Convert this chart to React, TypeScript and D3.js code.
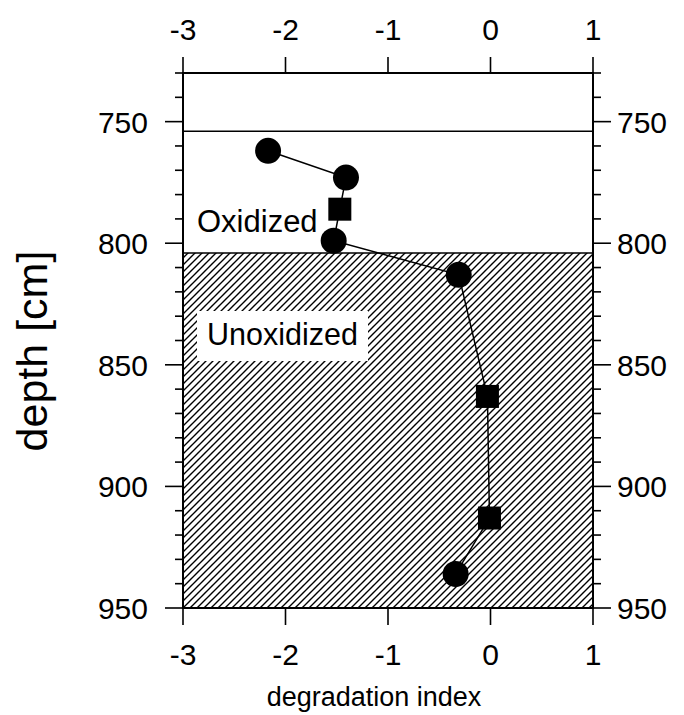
import * as d3 from "d3"
import React from "react"

// degradation index vs depth
const circleX = [-2.17, -1.41, -1.53, -0.31, -0.34]
const circleDepth = [762, 773, 799, 813, 936]
const squareX = [-1.47, -0.03, -0.01]
const squareDepth = [786, 863, 913]

const xTicks = [-3, -2, -1, 0, 1]
const depthMajor = [750, 800, 850, 900, 950]
const depthMinor = d3.range(730, 951, 10)

const oxidizedTop = 754
const unoxidizedTop = 804

const W = 684
const H = 715
const font = "'Liberation Sans', Arial, Helvetica, sans-serif"

const App = () => {
  const x = d3.scaleLinear().domain([-3, 1]).range([183, 593])
  const y = d3.scaleLinear().domain([730, 950]).range([73, 608])

  const circles = circleX.map((v, i) => ({ x: v, d: circleDepth[i] }))
  const squares = squareX.map((v, i) => ({ x: v, d: squareDepth[i] }))
  const all = [...circles, ...squares].sort((a, b) => a.d - b.d)

  const line = d3
    .line<{ x: number; d: number }>()
    .x((p) => x(p.x))
    .y((p) => y(p.d))

  const [x0, x1] = x.range()
  const [y0, y1] = y.range()

  return (
    <svg
      width={W}
      height={H}
      viewBox={`0 0 ${W} ${H}`}
      style={{ position: "absolute", left: 0, top: 0, display: "block", background: "#fff" }}
      fontFamily={font}
    >
      <defs>
        <pattern id="hatch" patternUnits="userSpaceOnUse" width={7} height={7}>
          <path d="M-1,1 l2,-2 M0,7 l7,-7 M6,8 l2,-2" stroke="#000" strokeWidth={1.4} />
        </pattern>
      </defs>

      {/* unoxidized zone */}
      <rect
        x={x0}
        y={y(unoxidizedTop)}
        width={x1 - x0}
        height={y1 - y(unoxidizedTop)}
        fill="url(#hatch)"
      />
      <line x1={x0} x2={x1} y1={y(oxidizedTop)} y2={y(oxidizedTop)} stroke="#000" strokeWidth={1.5} />
      <line x1={x0} x2={x1} y1={y(unoxidizedTop)} y2={y(unoxidizedTop)} stroke="#000" strokeWidth={1.5} />

      <text x={197} y={232} fontSize={31}>Oxidized</text>
      <rect x={197} y={311} width={171} height={50} fill="#fff" />
      <text x={207} y={345} fontSize={30.5}>Unoxidized</text>

      {/* frame */}
      <rect x={x0} y={y0} width={x1 - x0} height={y1 - y0} fill="none" stroke="#000" strokeWidth={2} />

      {/* x ticks top and bottom */}
      {xTicks.map((t) => (
        <g key={"x" + t}>
          <line x1={x(t)} x2={x(t)} y1={y0} y2={y0 - 16} stroke="#000" strokeWidth={1.6} />
          <line x1={x(t)} x2={x(t)} y1={y1} y2={y1 + 17} stroke="#000" strokeWidth={1.6} />
          <text x={x(t)} y={40} fontSize={30} textAnchor="middle">{t}</text>
          <text x={x(t)} y={665} fontSize={30} textAnchor="middle">{t}</text>
        </g>
      ))}

      {/* depth ticks left and right */}
      {depthMinor.map((t) => {
        const major = depthMajor.includes(t)
        const len = major ? 18 : 8
        return (
          <g key={"d" + t}>
            <line x1={x0} x2={x0 - len} y1={y(t)} y2={y(t)} stroke="#000" strokeWidth={1.6} />
            <line x1={x1} x2={x1 + len} y1={y(t)} y2={y(t)} stroke="#000" strokeWidth={1.6} />
          </g>
        )
      })}
      {depthMajor.map((t) => (
        <g key={"l" + t}>
          <text x={148} y={y(t) + 11} fontSize={30} textAnchor="end">{t}</text>
          <text x={617} y={y(t) + 11} fontSize={30}>{t}</text>
        </g>
      ))}

      {/* profile */}
      <path d={line(all) || ""} fill="none" stroke="#000" strokeWidth={1.5} />
      {circles.map((p, i) => (
        <circle key={"c" + i} cx={x(p.x)} cy={y(p.d)} r={13} fill="#000" />
      ))}
      {squares.map((p, i) => (
        <rect key={"s" + i} x={x(p.x) - 11.5} y={y(p.d) - 11.5} width={23} height={23} fill="#000" />
      ))}

      <text x={374} y={706} fontSize={27} textAnchor="middle">degradation index</text>
      <text
        transform={`translate(47,351) rotate(-90)`}
        fontSize={43}
        textAnchor="middle"
      >
        depth [cm]
      </text>
    </svg>
  )
}

export default App
